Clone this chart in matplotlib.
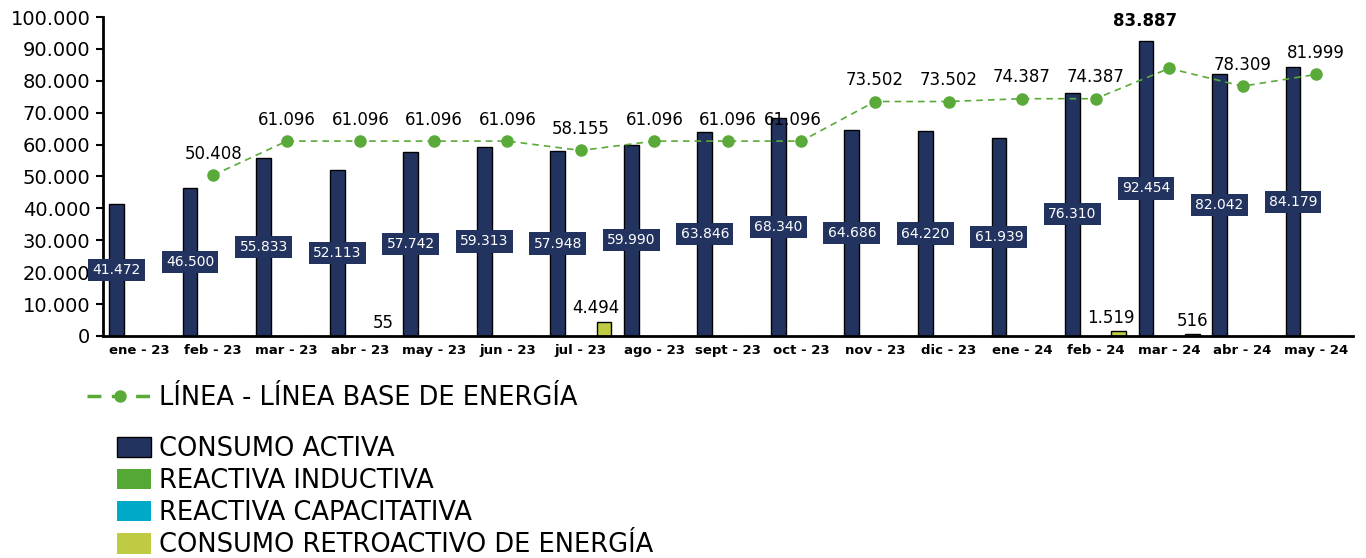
import numpy as np
import matplotlib
matplotlib.use("Agg")
import matplotlib.pyplot as plt
from matplotlib.lines import Line2D
from matplotlib.patches import Patch

plt.rcParams["font.family"] = ["DejaVu Sans"]

meses = ["ene - 23", "feb - 23", "mar - 23", "abr - 23", "may - 23", "jun - 23",
         "jul - 23", "ago - 23", "sept - 23", "oct - 23", "nov - 23", "dic - 23",
         "ene - 24", "feb - 24", "mar - 24", "abr - 24", "may - 24"]
consumo_activa = [41472, 46500, 55833, 52113, 57742, 59313, 57948, 59990, 63846,
                  68340, 64686, 64220, 61939, 76310, 92454, 82042, 84179]
reactiva_inductiva = [0] * 17
reactiva_capacitativa = [0] * 17
retroactivo = [0, 0, 0, 55, 0, 0, 4494, 0, 0, 0, 0, 0, 0, 1519, 516, 0, 0]
linea_base = [None, 50408, 61096, 61096, 61096, 61096, 58155, 61096, 61096, 61096,
              73502, 73502, 74387, 74387, 83887, 78309, 81999]

C_NAVY = "#22335f"
C_IND = "#55a835"
C_CAP = "#00a9c8"
C_RET = "#bfcb42"
C_LINE = "#5aaa3a"

def fmt(v):
    return f"{v:,.0f}".replace(",", ".")

fig = plt.figure(figsize=(13.66, 5.58), dpi=100)
ax = fig.add_axes([0.0754, 0.398, 0.915, 0.5715])

x = np.arange(len(meses))
w = 0.2
xa = x - 0.315
xi = x - 0.105
xc = x + 0.105
xr = x + 0.315
ax.bar(xa, consumo_activa, w, color=C_NAVY, edgecolor="black", lw=1, zorder=2)
ax.bar(xi, reactiva_inductiva, w, color=C_IND, zorder=2)
ax.bar(xc, reactiva_capacitativa, w, color=C_CAP, zorder=2)
ax.bar(xr, retroactivo, w, color=C_RET, edgecolor="black", lw=1, zorder=2)

# linea base
lx = [i for i, v in enumerate(linea_base) if v is not None]
ly = [v for v in linea_base if v is not None]
ax.plot(lx, ly, color=C_LINE, ls=(0, (4, 3)), lw=1.2, marker="o", ms=8, zorder=3)

# etiquetas
for i, v in enumerate(consumo_activa):
    ax.text(xa[i], v / 2, fmt(v), ha="center", va="center", color="white", fontsize=10,
            bbox=dict(boxstyle="square,pad=0.3", fc=C_NAVY, ec="none"), zorder=4)
for i, v in enumerate(retroactivo):
    if v:
        ax.annotate(fmt(v), (xr[i], v), xytext=(-6 if v > 1000 else 0, 3),
                    textcoords="offset points", ha="center", va="bottom",
                    fontsize=12, zorder=4)
for i, v in zip(lx, ly):
    if meses[i] == "mar - 24":
        ax.annotate(fmt(v), (i, v), xytext=(-17, 28), textcoords="offset points",
                    ha="center", va="bottom", fontsize=12, fontweight="bold", zorder=4)
    else:
        dx = -6 if meses[i] == "oct - 23" else 0
        ax.annotate(fmt(v), (i, v), xytext=(dx, 9), textcoords="offset points",
                    ha="center", va="bottom", fontsize=12, zorder=4)

ax.set_xlim(-0.5, len(meses) - 0.5)
ax.set_ylim(0, 100000)
ax.set_yticks(np.arange(0, 100001, 10000))
ax.set_yticklabels([fmt(t) for t in np.arange(0, 100001, 10000)], fontsize=14)
ax.set_xticks(x)
ax.set_xticklabels(meses, fontsize=9.5, fontweight="bold")
ax.tick_params(axis="x", length=0, pad=6)
ax.tick_params(axis="y", length=5, width=1.5, pad=4)
for s in ["top", "right"]:
    ax.spines[s].set_visible(False)
for s in ["left", "bottom"]:
    ax.spines[s].set_linewidth(2)

# leyendas
h_line = Line2D([], [], color=C_LINE, ls=(0, (4, 3)), lw=2.5, marker="o", ms=8)
fig.legend([h_line], ["LÍNEA - LÍNEA BASE DE ENERGÍA"], loc="center left",
           bbox_to_anchor=(0.064, 0.286), frameon=False, fontsize=18.5,
           handlelength=2.5, handletextpad=0.3, borderpad=0, borderaxespad=0)
h_bars = [Patch(fc=C_NAVY, ec="black", lw=1), Patch(fc=C_IND), Patch(fc=C_CAP), Patch(fc=C_RET)]
fig.legend(h_bars, ["CONSUMO ACTIVA", "REACTIVA INDUCTIVA", "REACTIVA CAPACITATIVA",
                    "CONSUMO RETROACTIVO DE ENERGÍA"],
           loc="upper left", bbox_to_anchor=(0.086, 0.219), frameon=False, fontsize=18.5,
           handlelength=1.3, handleheight=0.85, handletextpad=0.3, labelspacing=0.24,
           borderpad=0, borderaxespad=0)

fig.savefig("out.png", dpi=100)
